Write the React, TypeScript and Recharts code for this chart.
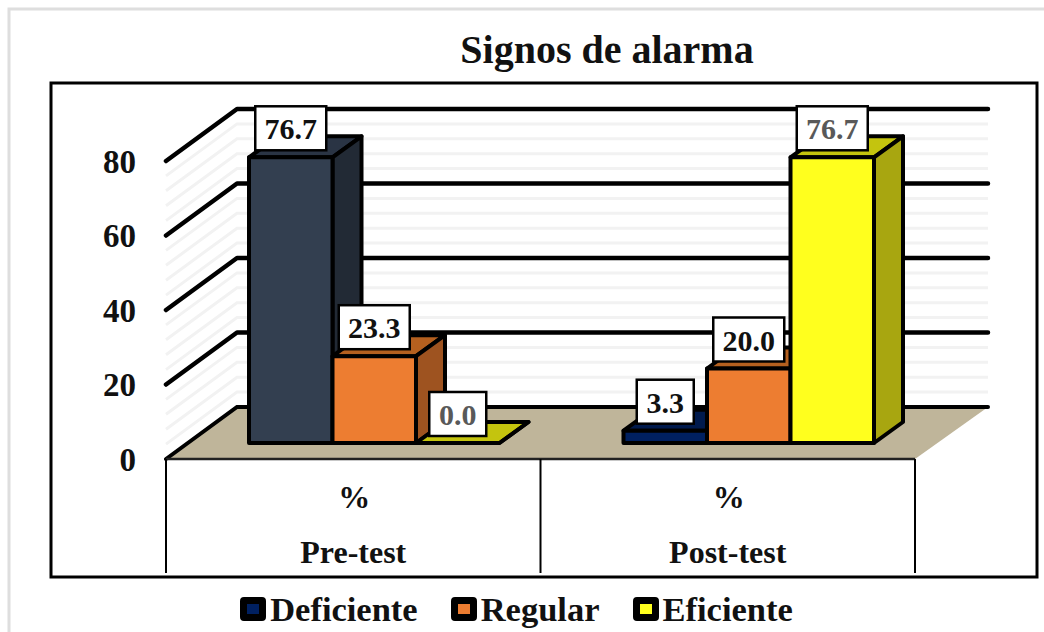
import React from "react";
import { BarChart, Bar, XAxis, YAxis, Cell, LabelList, Legend, ReferenceLine } from "recharts";

const categories = ["Pre-test", "Post-test"];
const subLabels = ["%", "%"];
const deficiente = [76.7, 3.3];
const regular = [23.3, 20.0];
const eficiente = [0.0, 76.7];
const yTicks = [0, 20, 40, 60, 80];
const minorTicks = [4, 8, 12, 16, 24, 28, 32, 36, 44, 48, 52, 56, 64, 68, 72, 76];

const chartData = categories.map((name, i) => ({
  name,
  sub: subLabels[i],
  deficiente: deficiente[i],
  regular: regular[i],
  eficiente: eficiente[i],
}));

const SERIF = "'Liberation Serif', serif";
const BAND = 374.5; // ancho de cada categoria

// colores: [frente, tapa, lateral]
const NAVY = ["#002060", "#001a4d", "#00163f"];
const SLATE = ["#333f50", "#2a3444", "#222a35"];
const ORANGE = ["#ed7d31", "#b5601f", "#9e5320"];
const YELLOW = ["#ffff1e", "#c4c40e", "#a8a610"];

const shades: Record<string, string[]> = {
  [NAVY[0]]: NAVY,
  [SLATE[0]]: SLATE,
  [ORANGE[0]]: ORANGE,
  [YELLOW[0]]: YELLOW,
};

// barra 3D: el frente se desplaza hacia el centro del piso
const Bar3D = (props: any) => {
  const { x, y, width, height, fill } = props;
  const left = x + 21;
  const right = left + width;
  const top = y - 16;
  const bottom = top + height;
  const [front, cap, side] = shades[fill] || NAVY;
  const line = { stroke: "#000", strokeWidth: 4, strokeLinejoin: "round" as const };
  return (
    <g>
      <polygon points={`${left},${top} ${left + 29},${top - 21} ${right + 29},${top - 21} ${right},${top}`} fill={cap} {...line} />
      <polygon points={`${right},${top} ${right + 29},${top - 21} ${right + 29},${bottom - 21} ${right},${bottom}`} fill={side} {...line} />
      <rect x={left} y={top} width={width} height={height} fill={front} {...line} />
    </g>
  );
};

const valueLabel = (color: string) => (props: any) => {
  const { x, y, width, value } = props;
  const text = Number(value).toFixed(1);
  const boxW = text.length > 3 ? 71 : 57;
  const cx = x + 21 + width / 2;
  const cy = y - 16 - 29;
  return (
    <g>
      <rect x={cx - boxW / 2} y={cy - 22} width={boxW} height={44} fill="#fff" stroke="#000" strokeWidth={2.5} />
      <text x={cx} y={cy + 11} textAnchor="middle" fontFamily={SERIF} fontWeight="bold" fontSize={30} fill={color}>
        {text}
      </text>
    </g>
  );
};

const MinorLine = (props: any) => {
  const { x1, x2, y1 } = props;
  return (
    <polyline
      points={`${x1},${y1} ${x1 + 71},${y1 - 52} ${x2 + 73},${y1 - 52}`}
      fill="none"
      stroke="#f2f2f2"
      strokeWidth={3}
    />
  );
};

const MajorLine = (props: any) => {
  const { x1, x2, y1 } = props;
  return (
    <polyline
      points={`${x1},${y1} ${x1 + 71},${y1 - 52} ${x2 + 73},${y1 - 52}`}
      fill="none"
      stroke="#000"
      strokeWidth={4.5}
      strokeLinecap="round"
      strokeLinejoin="round"
    />
  );
};

const Floor = (props: any) => {
  const { x1, x2, y1 } = props;
  return (
    <g>
      <polygon points={`${x1},${y1} ${x1 + 71},${y1 - 52} ${x2 + 73},${y1 - 52} ${x2},${y1}`} fill="#bfb59a" />
      <polyline
        points={`${x1},${y1} ${x1 + 71},${y1 - 52} ${x2 + 73},${y1 - 52}`}
        fill="none"
        stroke="#000"
        strokeWidth={4}
        strokeLinecap="round"
      />
      <line x1={x1} y1={y1} x2={x2} y2={y1} stroke="#222" strokeWidth={2.5} />
    </g>
  );
};

const CategoryTick = (props: any) => {
  const { x, payload, index } = props;
  const left = x - BAND / 2;
  const right = x + BAND / 2;
  return (
    <g>
      <line x1={left} y1={459} x2={left} y2={573} stroke="#000" strokeWidth={2} />
      {index === categories.length - 1 && <line x1={right} y1={459} x2={right} y2={573} stroke="#000" strokeWidth={2} />}
      <text x={x + 1} y={508} textAnchor="middle" fontFamily={SERIF} fontWeight="bold" fontSize={32} fill="#111">
        {subLabels[index]}
      </text>
      <text x={x} y={563} textAnchor="middle" fontFamily={SERIF} fontWeight="bold" fontSize={32} fill="#111">
        {payload.value}
      </text>
    </g>
  );
};

const LegendContent = (props: any) => {
  const { payload } = props;
  return (
    <div style={{ display: "flex", justifyContent: "center", gap: 33, fontFamily: SERIF, fontWeight: "bold", fontSize: 34.5, color: "#111" }}>
      {(payload || []).map((entry: any) => (
        <div key={entry.value} style={{ display: "flex", alignItems: "center", gap: 4, height: 38 }}>
          <span
            style={{
              display: "block",
              width: 12,
              height: 10,
              background: entry.color,
              border: "7px solid #000",
              borderRadius: 4,
            }}
          />
          {entry.value}
        </div>
      ))}
    </div>
  );
};

export default function App() {
  return (
    <div style={{ position: "absolute", left: 0, top: 0, width: 1044, height: 632, background: "#fff" }}>
      <BarChart
        width={1044}
        height={632}
        data={chartData}
        margin={{ top: 161, right: 129, bottom: 35, left: 106 }}
        barSize={83.5}
        barGap={0}
      >
        <rect x={9} y={9} width={1060} height={640} fill="none" stroke="#dedede" strokeWidth={3} />
        <rect x={51} y={83} width={986} height={494} fill="none" stroke="#000" strokeWidth={3} />
        <text x={607} y={63} textAnchor="middle" fontFamily={SERIF} fontWeight="bold" fontSize={40} fill="#111">
          Signos de alarma
        </text>
        {minorTicks.map((v) => (
          <ReferenceLine key={v} y={v} shape={<MinorLine />} zIndex={-90} />
        ))}
        {yTicks.slice(1).map((v) => (
          <ReferenceLine key={v} y={v} shape={<MajorLine />} zIndex={-80} />
        ))}
        <ReferenceLine y={0} shape={<Floor />} zIndex={-70} />
        <XAxis
          dataKey="name"
          axisLine={false}
          tickLine={false}
          height={100}
          tick={<CategoryTick />}
          interval={0}
        />
        <YAxis
          domain={[0, 80]}
          ticks={yTicks}
          width={60}
          axisLine={false}
          tickLine={false}
          tick={{ fontFamily: SERIF, fontWeight: "bold", fontSize: 33, fill: "#111" }}
          tickMargin={24}
        />
        <Bar dataKey="deficiente" name="Deficiente" fill={NAVY[0]} shape={<Bar3D />} isAnimationActive={false}>
          <Cell fill={SLATE[0]} />
          <Cell fill={NAVY[0]} />
          <LabelList dataKey="deficiente" content={valueLabel("#111")} />
        </Bar>
        <Bar dataKey="regular" name="Regular" fill={ORANGE[0]} shape={<Bar3D />} isAnimationActive={false}>
          <LabelList dataKey="regular" content={valueLabel("#111")} />
        </Bar>
        <Bar dataKey="eficiente" name="Eficiente" fill={YELLOW[0]} shape={<Bar3D />} isAnimationActive={false}>
          <LabelList dataKey="eficiente" content={valueLabel("#595959")} />
        </Bar>
        <Legend
          content={<LegendContent />}
          itemSorter={null}
          wrapperStyle={{ position: "absolute", left: 0, top: 590, width: 1033, height: 38 }}
        />
      </BarChart>
    </div>
  );
}
